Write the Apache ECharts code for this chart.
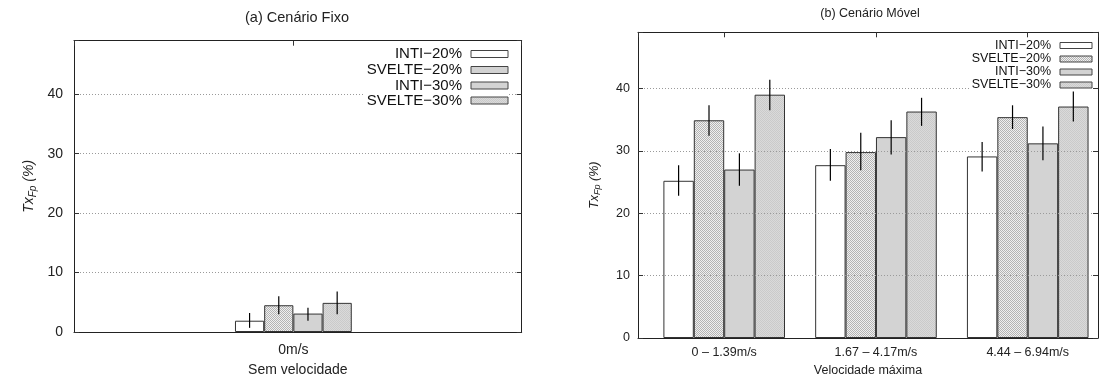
<!DOCTYPE html>
<html>
<head>
<meta charset="utf-8">
<script src="https://cdn.jsdelivr.net/npm/echarts@6/dist/echarts.min.js"></script>
<style>
  html, body { margin: 0; padding: 0; background: #fff; }
  #main { width: 1099px; height: 382px; }
</style>
</head>
<body>
<div id="main"></div>
<script>
const seriesNames = ['INTI−20%', 'SVELTE−20%', 'INTI−30%', 'SVELTE−30%'];

// (a) Cenário Fixo
const fixoCats = ['0m/s'];
const fixoInti20 = [1.9];
const fixoInti20Lo = [0.7];
const fixoInti20Hi = [3.2];
const fixoSvelte20 = [4.5];
const fixoSvelte20Lo = [3.0];
const fixoSvelte20Hi = [6.0];
const fixoInti30 = [3.1];
const fixoInti30Lo = [1.9];
const fixoInti30Hi = [4.1];
const fixoSvelte30 = [4.9];
const fixoSvelte30Lo = [3.0];
const fixoSvelte30Hi = [6.8];

// (b) Cenário Móvel
const movelCats = ['0 – 1.39m/s', '1.67 – 4.17m/s', '4.44 – 6.94m/s'];
const movelInti20 = [25.2, 27.7, 29.1];
const movelInti20Lo = [22.8, 25.2, 26.7];
const movelInti20Hi = [27.7, 30.3, 31.4];
const movelSvelte20 = [34.9, 29.8, 35.4];
const movelSvelte20Lo = [32.4, 26.9, 33.5];
const movelSvelte20Hi = [37.3, 32.9, 37.3];
const movelInti30 = [27.0, 32.2, 31.2];
const movelInti30Lo = [24.4, 29.4, 28.5];
const movelInti30Hi = [29.6, 34.9, 33.9];
const movelSvelte30 = [39.0, 36.3, 37.1];
const movelSvelte30Lo = [36.5, 34.0, 34.7];
const movelSvelte30Hi = [41.4, 38.5, 39.5];

const yTicks = [0, 10, 20, 30, 40];

const FONT = 'Liberation Sans, Arial, Helvetica, sans-serif';

function pattern(base, dot) {
  const cv = document.createElement('canvas');
  cv.width = 2;
  cv.height = 2;
  const ctx = cv.getContext('2d');
  ctx.fillStyle = base;
  ctx.fillRect(0, 0, 2, 2);
  ctx.fillStyle = dot;
  ctx.fillRect(0, 0, 1, 1);
  ctx.fillRect(1, 1, 1, 1);
  return { image: cv, repeat: 'repeat' };
}

const fills = [
  '#ffffff',
  pattern('#f0f0f0', '#b4b4b4'),
  '#d3d3d3',
  pattern('#dadada', '#cacaca')
];

function barSeries(gi, k, cats, vals, barW) {
  return {
    name: seriesNames[k],
    type: 'bar',
    xAxisIndex: gi,
    yAxisIndex: gi,
    barWidth: barW,
    barGap: '0%',
    data: cats.map((c, i) => [i, vals[i]]),
    itemStyle: { color: fills[k], borderColor: '#333', borderWidth: 1 },
    emphasis: { disabled: true }
  };
}

function errSeries(gi, k, cats, lo, hi, barW) {
  return {
    type: 'custom',
    xAxisIndex: gi,
    yAxisIndex: gi,
    silent: true,
    z: 5,
    data: cats.map((c, i) => [i, lo[i], hi[i]]),
    encode: { x: 0, y: [1, 2] },
    renderItem(params, api) {
      const a = api.coord([api.value(0), api.value(1)]);
      const b = api.coord([api.value(0), api.value(2)]);
      const dx = (k - 1.5) * barW;
      return {
        type: 'line',
        shape: { x1: a[0] + dx, y1: a[1], x2: b[0] + dx, y2: b[1] },
        style: { stroke: '#000', lineWidth: 1.2 }
      };
    }
  };
}

const frameLine = { show: true, onZero: false, lineStyle: { color: '#222', width: 1 } };

function xAxisCfg(gi, cats, min, max, fs, margin, name, nameGap) {
  return {
    type: 'value',
    gridIndex: gi,
    min: min,
    max: max,
    minInterval: 1,
    z: 3,
    axisLine: frameLine,
    axisTick: { show: false },
    splitLine: { show: false },
    axisLabel: {
      fontSize: fs, fontFamily: FONT, color: '#222', margin: margin,
      showMinLabel: false, showMaxLabel: false,
      formatter: v => {
        const r = Math.round(v);
        return Math.abs(v - r) < 1e-6 && cats[r] != null ? cats[r] : '';
      }
    },
    name: name,
    nameLocation: 'middle',
    nameGap: nameGap,
    nameTextStyle: { fontSize: fs, fontFamily: FONT, color: '#222' }
  };
}

function mirrorX(gi, min, max) {
  return {
    type: 'value', gridIndex: gi, position: 'top', min: min, max: max, minInterval: 1, z: 3,
    axisLine: frameLine,
    axisTick: { show: true, inside: true, length: 5, lineStyle: { color: '#333' } },
    axisLabel: { show: false },
    splitLine: { show: false }
  };
}

function yAxisCfg(gi, fs, margin, nameGap) {
  return {
    type: 'value',
    gridIndex: gi,
    min: 0,
    max: 49,
    interval: 10,
    z: 3,
    axisLine: frameLine,
    axisTick: { show: true, inside: true, length: 5, lineStyle: { color: '#333' } },
    axisLabel: {
      fontSize: fs, fontFamily: FONT, color: '#222', margin: margin,
      formatter: v => (yTicks.indexOf(v) >= 0 ? String(v) : '')
    },
    splitLine: { show: true, lineStyle: { color: '#9a9a9a', type: [1, 2], width: 1 } },
    name: '{it|Tx}{sub|Fp}{it| (%)}',
    nameLocation: 'middle',
    nameGap: nameGap,
    nameTextStyle: {
      rich: {
        it: { fontSize: fs, fontStyle: 'italic', fontFamily: FONT, color: '#222' },
        sub: { fontSize: fs * 0.72, fontStyle: 'italic', fontFamily: FONT, color: '#222', padding: [fs * 0.55, 0, 0, 0] }
      }
    }
  };
}

function mirrorY(gi) {
  return {
    type: 'value', gridIndex: gi, position: 'right', min: 0, max: 49, interval: 10, z: 3,
    axisLine: frameLine,
    axisTick: { show: true, inside: true, length: 5, lineStyle: { color: '#333' } },
    axisLabel: { show: false },
    splitLine: { show: false }
  };
}

function legendCfg(k, right, top, w, h, fs, lh) {
  return {
    data: [seriesNames[k]],
    right: right,
    top: top,
    orient: 'vertical',
    align: 'right',
    icon: 'rect',
    itemWidth: w,
    itemHeight: h,
    padding: [0, 0, 0, 2],
    backgroundColor: '#fff',
    selectedMode: false,
    itemStyle: { borderWidth: 1, borderColor: '#444' },
    textStyle: { fontSize: fs, fontFamily: FONT, color: '#111', lineHeight: lh, padding: [0, 4, 0, 0] }
  };
}

const FIXO_BAR = 29.2;
const MOVEL_BAR = 30.4;

const fixoVals = [fixoInti20, fixoSvelte20, fixoInti30, fixoSvelte30];
const fixoLo = [fixoInti20Lo, fixoSvelte20Lo, fixoInti30Lo, fixoSvelte30Lo];
const fixoHi = [fixoInti20Hi, fixoSvelte20Hi, fixoInti30Hi, fixoSvelte30Hi];
const movelVals = [movelInti20, movelSvelte20, movelInti30, movelSvelte30];
const movelLo = [movelInti20Lo, movelSvelte20Lo, movelInti30Lo, movelSvelte30Lo];
const movelHi = [movelInti20Hi, movelSvelte20Hi, movelInti30Hi, movelSvelte30Hi];

const series = [];
for (let k = 0; k < 4; k++) {
  series.push(barSeries(0, k, fixoCats, fixoVals[k], FIXO_BAR));
  series.push(barSeries(1, k, movelCats, movelVals[k], MOVEL_BAR));
}
for (let k = 0; k < 4; k++) {
  series.push(errSeries(0, k, fixoCats, fixoLo[k], fixoHi[k], FIXO_BAR));
  series.push(errSeries(1, k, movelCats, movelLo[k], movelHi[k], MOVEL_BAR));
}

const fixoRows = [54, 70, 85.5, 100.5];
const movelRows = [45.5, 59, 72, 85];
const legends = [];
for (let k = 0; k < 4; k++) {
  legends.push(legendCfg(k, 590.5, fixoRows[k] - 7.5, 37, 7, 15, 15));
  legends.push(legendCfg(k, 6.5, movelRows[k] - 6.5, 32, 6, 12.5, 13));
}

const option = {
  animation: false,
  backgroundColor: '#fff',
  graphic: [
    { type: 'text', x: 297, y: 17.5, style: { text: '(a) Cenário Fixo', font: '14.5px ' + FONT, fill: '#222', textAlign: 'center', textVerticalAlign: 'middle' } },
    { type: 'text', x: 870, y: 13.5, style: { text: '(b) Cenário Móvel', font: '12.5px ' + FONT, fill: '#222', textAlign: 'center', textVerticalAlign: 'middle' } }
  ],
  legend: legends,
  grid: [
    { left: 74, right: 577.3, top: 40.7, bottom: 49.3 },
    { left: 638, right: 1, top: 32.3, bottom: 40.7 }
  ],
  xAxis: [
    xAxisCfg(0, fixoCats, -0.49, 0.51, 14, 11, 'Sem velocidade', 31),
    xAxisCfg(1, movelCats, -0.568, 2.463, 12.5, 8, 'Velocidade máxima', 26),
    mirrorX(0, -0.49, 0.51),
    mirrorX(1, -0.568, 2.463)
  ],
  yAxis: [
    yAxisCfg(0, 14, 11, 36),
    yAxisCfg(1, 12.5, 8, 36),
    mirrorY(0),
    mirrorY(1)
  ],
  series: series
};

const chart = echarts.init(document.getElementById('main'), null, { renderer: 'canvas' });
chart.setOption(option);
</script>
</body>
</html>
